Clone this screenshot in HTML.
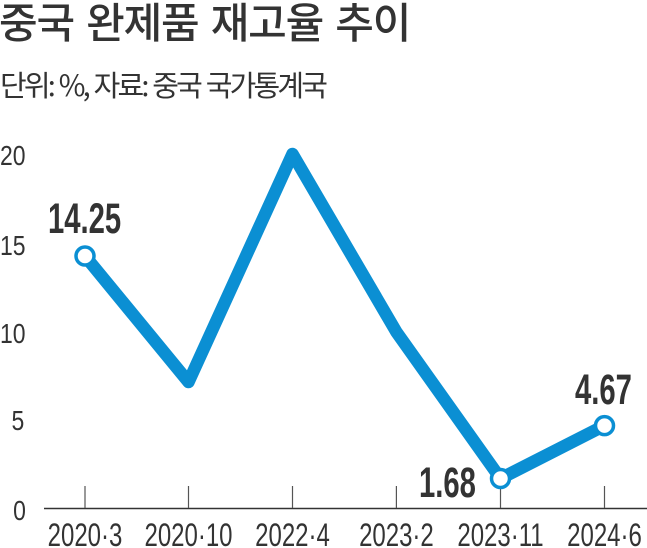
<!DOCTYPE html>
<html><head><meta charset="utf-8"><style>
html,body{margin:0;padding:0;background:#fff;}
svg{display:block;}
.t{font-family:"Liberation Sans","Noto Sans CJK KR",sans-serif;fill:#333;}
</style></head><body>
<svg width="647" height="548" viewBox="0 0 647 548" xmlns="http://www.w3.org/2000/svg">
<text class="t" x="-1" y="38" font-size="42" font-weight="500" letter-spacing="-1.2" word-spacing="4" style="font-family:'Noto Sans CJK KR',sans-serif">중국 완제품 재고율 추이</text>
<text class="t" x="0" y="96" font-size="29" font-weight="400" letter-spacing="-2.8" word-spacing="2" style="font-family:'Noto Sans CJK KR',sans-serif">단위: %, 자료: 중국 국가통계국</text>
<g class="t" font-size="28" text-anchor="start">
<text x="0" y="165" transform="scale(0.82,1)">20</text>
<text x="0" y="255" transform="scale(0.82,1)">15</text>
<text x="0" y="343" transform="scale(0.82,1)">10</text>
<text x="14" y="430" transform="scale(0.82,1)">5</text>
<text x="16" y="520" transform="scale(0.82,1)">0</text>
</g>
<line x1="44" y1="508.5" x2="647" y2="508.5" stroke="#333" stroke-width="1.5"/>
<g stroke="#555" stroke-width="1.2">
<line x1="85" y1="486" x2="85" y2="508"/>
<line x1="188.5" y1="486" x2="188.5" y2="508"/>
<line x1="292.5" y1="486" x2="292.5" y2="508"/>
<line x1="396.4" y1="486" x2="396.4" y2="508"/>
<line x1="500.5" y1="486" x2="500.5" y2="508"/>
<line x1="604.5" y1="486" x2="604.5" y2="508"/>
</g>
<g class="t" font-size="32" text-anchor="middle">
<text transform="translate(85,546) scale(0.75,1)">2020·3</text>
<text transform="translate(188.5,546) scale(0.75,1)">2020·10</text>
<text transform="translate(292.5,546) scale(0.75,1)">2022·4</text>
<text transform="translate(396.4,546) scale(0.75,1)">2023·2</text>
<text transform="translate(500.5,546) scale(0.75,1)">2023·11</text>
<text transform="translate(604.5,546) scale(0.75,1)">2024·6</text>
</g>
<polyline points="85,256 188.5,382 292.5,154 396.4,332 500.5,478.5 604.5,425.6" fill="none" stroke="#0b8fd3" stroke-width="12.5" stroke-linejoin="round" stroke-linecap="round"/>
<g fill="#fff" stroke="#0b8fd3" stroke-width="3.5">
<circle cx="85" cy="256" r="9"/>
<circle cx="500.5" cy="478.5" r="9"/>
<circle cx="604.5" cy="425.6" r="9"/>
</g>
<g class="t" font-size="43" font-weight="700">
<text transform="translate(48,233) scale(0.68,1)">14.25</text>
<text transform="translate(419,497) scale(0.68,1)">1.68</text>
<text transform="translate(575,404) scale(0.68,1)">4.67</text>
</g>
</svg>
</body></html>
